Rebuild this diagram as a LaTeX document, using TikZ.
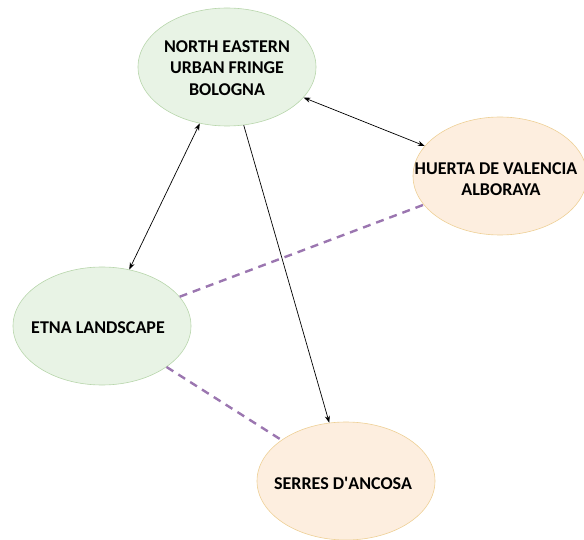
\documentclass[tikz,border=0pt]{standalone}
\usepackage{fontspec}
\setmainfont{Carlito}
\usetikzlibrary{shapes.geometric,arrows.meta}
\definecolor{greenfill}{RGB}{232,243,229}
\definecolor{greenline}{RGB}{184,214,172}
\definecolor{orangefill}{RGB}{253,238,223}
\definecolor{orangeline}{RGB}{238,208,150}
\definecolor{linkpurple}{RGB}{155,118,176}
\begin{document}
\begin{tikzpicture}[x=1pt,y=-1pt,
  place/.style={ellipse,inner sep=0pt,minimum width=178pt,minimum height=118pt,line width=0.6pt},
  greenplace/.style={place,draw=greenline,fill=greenfill},
  orangeplace/.style={place,draw=orangeline,fill=orangefill},
  caption/.style={font=\fontsize{18}{21.5}\selectfont\bfseries,align=center,inner sep=0pt},
  link/.style={line width=0.7pt,black,arrows={-Stealth[length=7pt,width=5pt]}},
  twolink/.style={line width=0.7pt,black,arrows={Stealth[length=7pt,width=5pt]-Stealth[length=7pt,width=5pt]}},
  affinity/.style={line width=2.4pt,linkpurple,dash pattern=on 8pt off 6pt}]
\useasboundingbox (0,0) rectangle (584,540);

\node[greenplace]  (bologna) at (227,67)  {};
\node[orangeplace,minimum width=174pt] (huerta) at (500,176) {};
\node[greenplace]  (etna)    at (102,326) {};
\node[orangeplace] (serres)  at (346,481) {};

\node[caption] (tbologna) at (227,68)  {NORTH EASTERN\\URBAN FRINGE\\BOLOGNA};
\node[caption] (thuerta)  at (496,179) {HUERTA DE VALENCIA\\\hspace*{10pt}ALBORAYA};
\node[caption] (tetna)    at (98,328)  {ETNA LANDSCAPE};
\node[caption] (tserres)  at (343,483) {SERRES D\textquotesingle ANCOSA};

\draw[twolink] (bologna) -- (huerta);
\draw[twolink] (bologna) -- (etna);
\draw[link]    (bologna) -- (serres);
\draw[affinity] (etna) -- (huerta);
\draw[affinity] (etna) -- (serres);
\end{tikzpicture}
\end{document}
